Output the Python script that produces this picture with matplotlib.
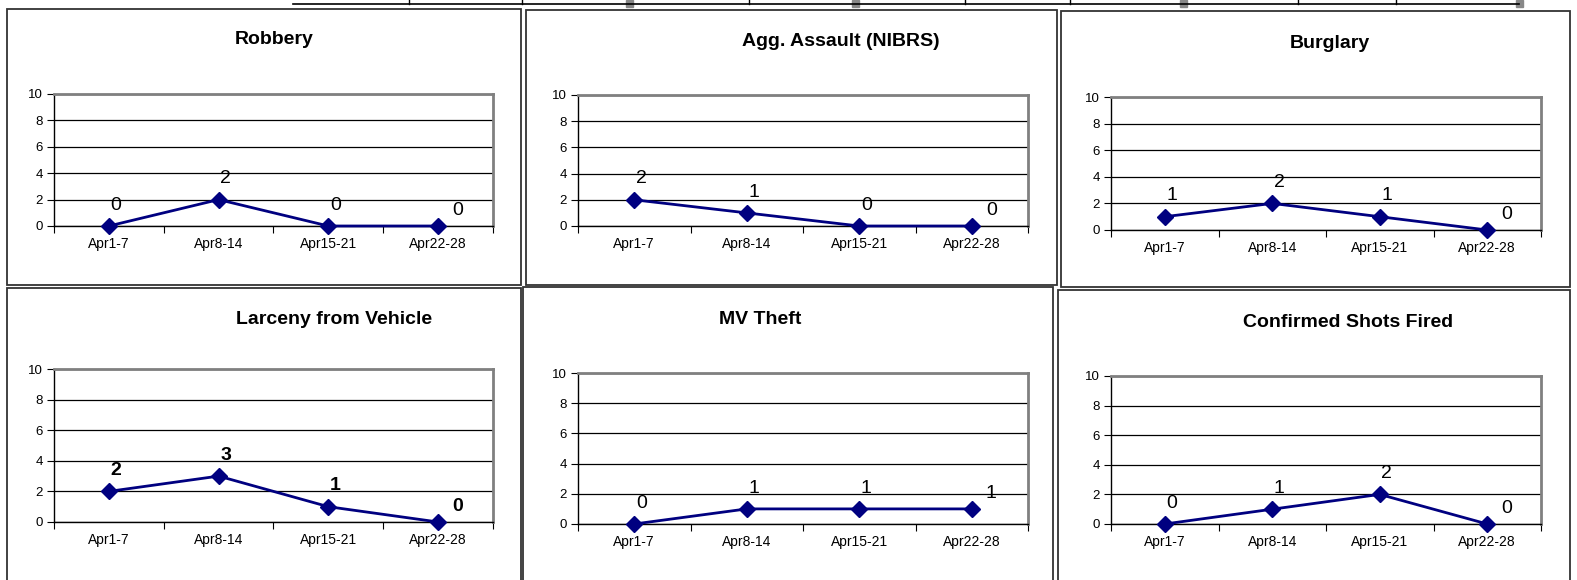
import matplotlib
matplotlib.use('Agg')
import matplotlib.pyplot as plt
from matplotlib.lines import Line2D
from matplotlib.patches import Rectangle

plt.rcParams['font.family'] = ['Liberation Sans', 'DejaVu Sans']

weeks = ['Apr1-7', 'Apr8-14', 'Apr15-21', 'Apr22-28']
robbery = [0, 2, 0, 0]
agg_assault = [2, 1, 0, 0]
burglary = [1, 2, 1, 0]
larceny_vehicle = [2, 3, 1, 0]
mv_theft = [0, 1, 1, 1]
shots_fired = [0, 1, 2, 0]

W, H = 1577, 580
LINE = '#000080'


def px_rect(x0, y0, x1, y1):
    return [x0 / W, 1 - y1 / H, (x1 - x0) / W, (y1 - y0) / H]


def draw_box(fig, x0, y0, x1, y1):
    fig.patches.append(Rectangle((x0 / W, 1 - y1 / H), (x1 - x0) / W, (y1 - y0) / H,
                                 transform=fig.transFigure, fill=False,
                                 edgecolor='#333333', linewidth=1.3))


def grafico(fig, area, title, title_xy, values, bold_labels=False):
    ax = fig.add_axes(px_rect(*area))
    x = list(range(1, len(weeks) + 1))
    ax.plot(x, values, color=LINE, linewidth=2, marker='D', markersize=8,
            markerfacecolor=LINE, markeredgecolor=LINE, zorder=5, clip_on=False)
    ax.set_xlim(0.5, len(weeks) + 0.5)
    ax.set_ylim(0, 10)
    ax.set_yticks([0, 2, 4, 6, 8, 10])
    ax.set_xticks([i + 0.5 for i in range(len(weeks) + 1)])
    ax.set_xticklabels([])
    ax.set_xticks(x, minor=True)
    ax.set_xticklabels(weeks, minor=True, fontsize=10)
    ax.tick_params(axis='x', which='minor', length=0, pad=8)
    ax.tick_params(axis='x', which='major', length=5, direction='out', color='black')
    ax.tick_params(axis='y', length=5, labelsize=9.5, pad=3)
    ax.grid(axis='y', color='black', linewidth=0.9)
    ax.set_axisbelow(True)
    for s in ['top', 'right']:
        ax.spines[s].set_color('#808080')
        ax.spines[s].set_linewidth(2)
    for s in ['left', 'bottom']:
        ax.spines[s].set_color('black')
        ax.spines[s].set_linewidth(1)
    for i, v in enumerate(values):
        off = (14, 11) if i == len(values) - 1 else (5, 15)
        ax.annotate(str(v), (x[i], v), xytext=off, textcoords='offset points',
                    ha='center', va='center', fontsize=14,
                    fontweight='bold' if bold_labels else 'normal')
    fig.text(title_xy[0] / W, 1 - title_xy[1] / H, title, ha='center', va='center',
             fontsize=14, fontweight='bold')
    return ax


def main():
    fig = plt.figure(figsize=(W / 100, H / 100), dpi=100)

    # table line at the top
    fig.lines.append(Line2D([293 / W, 1519 / W], [1 - 4 / H, 1 - 4 / H],
                            transform=fig.transFigure, color='black', linewidth=1.2))
    for xd in [409, 522, 749, 965, 1070, 1298, 1396]:
        fig.lines.append(Line2D([xd / W, xd / W], [1, 1 - 4 / H],
                                transform=fig.transFigure, color='black', linewidth=1))
    for xg in [629, 855, 1183, 1519]:
        fig.patches.append(Rectangle(((xg - 3.5) / W, 1 - 7 / H), 7 / W, 7 / H,
                                     transform=fig.transFigure, color='#888888'))

    draw_box(fig, 7, 9, 521, 285)
    draw_box(fig, 526, 10, 1057, 285)
    draw_box(fig, 1061, 11, 1570, 287)
    draw_box(fig, 7, 288, 521, 582)
    draw_box(fig, 523, 287, 1053, 582)
    draw_box(fig, 1058, 290, 1570, 582)

    grafico(fig, (54, 94, 493, 226), 'Robbery', (274, 39), robbery)
    grafico(fig, (578, 95, 1028, 226), 'Agg. Assault (NIBRS)', (841, 42), agg_assault)
    grafico(fig, (1111, 97, 1541, 230), 'Burglary', (1330, 43), burglary)
    grafico(fig, (54, 369, 493, 522), 'Larceny from Vehicle', (334, 320), larceny_vehicle,
            bold_labels=True)
    grafico(fig, (578, 373, 1028, 524), 'MV Theft', (760, 320), mv_theft)
    grafico(fig, (1111, 376, 1541, 524), 'Confirmed Shots Fired', (1348, 323), shots_fired)

    fig.savefig('out.png', dpi=100)
    plt.close(fig)


if __name__ == "__main__":
    main()
